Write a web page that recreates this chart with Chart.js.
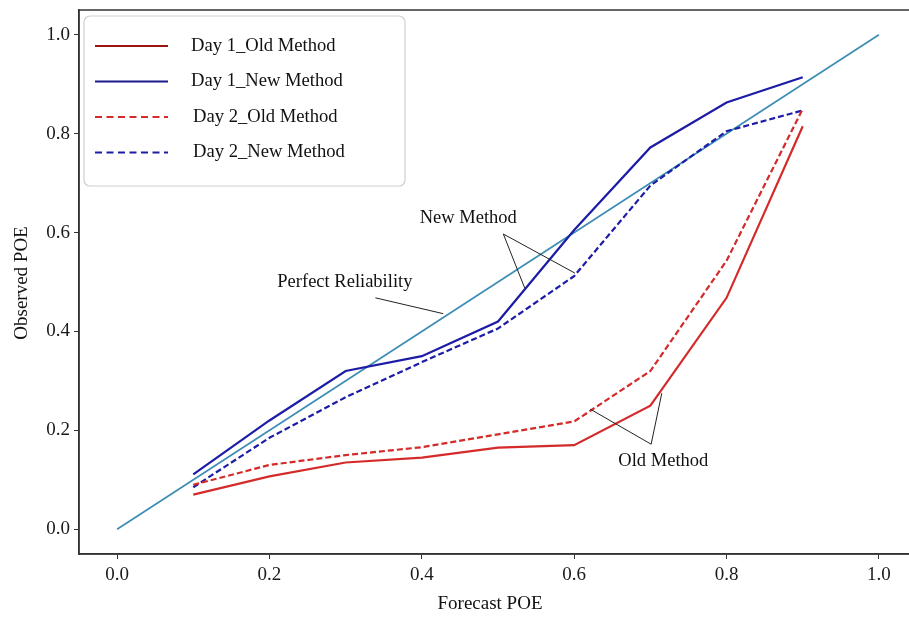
<!DOCTYPE html>
<html>
<head>
<meta charset="utf-8">
<script src="https://cdn.jsdelivr.net/npm/chart.js@4.4.0/dist/chart.umd.min.js"></script>
<style>
  html, body { margin: 0; padding: 0; background: #fff; overflow: hidden; }
  #wrap { width: 930px; height: 617px; }
</style>
</head>
<body>
<div id="wrap"><canvas id="myChart" width="930" height="617"></canvas></div>
<script>
"use strict";

// forecast POE points
let forecast = [0.1, 0.2, 0.3, 0.4, 0.5, 0.6, 0.7, 0.8, 0.9];
let day1Old = [0.07, 0.107, 0.135, 0.145, 0.165, 0.17, 0.25, 0.468, 0.815];
let day1New = [0.111, 0.22, 0.32, 0.35, 0.42, 0.605, 0.772, 0.863, 0.914];
let day2Old = [0.09, 0.13, 0.15, 0.166, 0.192, 0.218, 0.32, 0.543, 0.85];
let day2New = [0.085, 0.185, 0.267, 0.338, 0.406, 0.512, 0.695, 0.805, 0.847];
let perfectX = [0, 1];
let perfectY = [0, 1];
let tickValues = [0, 0.2, 0.4, 0.6, 0.8, 1.0];

// annotations: text position, arrow tail, arrow heads (data units)
let notes = [
    { text: "New Method", at: [0.461, 0.63], tail: [0.507, 0.597], heads: [[0.535, 0.488], [0.601, 0.518]] },
    { text: "Perfect Reliability", at: [0.299, 0.5], tail: [0.339, 0.468], heads: [[0.428, 0.436]] },
    { text: "Old Method", at: [0.717, 0.137], tail: [0.701, 0.172], heads: [[0.621, 0.243], [0.715, 0.275]] }
];

let RED = "#d42a2a";
let BLUE = "#1c1ca6";
let TEAL = "#3d8db5";
let FONT = "'Liberation Serif', 'Times New Roman', serif";

function pts(xs, ys) { return xs.map(function (x, i) { return { x: x, y: ys[i] }; }); }

let series = [
    { label: "Day 1_Old Method", data: day1Old, color: RED, dash: [] },
    { label: "Day 1_New Method", data: day1New, color: BLUE, dash: [] },
    { label: "Day 2_Old Method", data: day2Old, color: RED, dash: [6, 3] },
    { label: "Day 2_New Method", data: day2New, color: BLUE, dash: [6, 3] }
];

let datasets = series.map(function (s) {
    return {
        label: s.label,
        data: pts(forecast, s.data),
        borderColor: s.color,
        borderWidth: 2.2,
        borderDash: s.dash,
        pointRadius: 0,
        fill: false,
        tension: 0
    };
});
datasets.push({
    label: "Perfect Reliability",
    data: pts(perfectX, perfectY),
    borderColor: TEAL,
    borderWidth: 1.7,
    pointRadius: 0,
    fill: false
});

let extras = {
    id: "extras",
    afterDraw: function (chart) {
        let ctx = chart.ctx;
        let xs = chart.scales.x, ys = chart.scales.y;
        let a = chart.chartArea;
        ctx.save();

        // frame
        ctx.strokeStyle = "#333";
        ctx.lineWidth = 1.5;
        ctx.strokeRect(a.left, a.top, a.right - a.left, a.bottom - a.top);

        // annotations
        ctx.fillStyle = "#111";
        ctx.strokeStyle = "#222";
        ctx.lineWidth = 1;
        ctx.font = "18.5px " + FONT;
        ctx.textAlign = "center";
        ctx.textBaseline = "middle";
        notes.forEach(function (n) {
            ctx.fillText(n.text, xs.getPixelForValue(n.at[0]), ys.getPixelForValue(n.at[1]));
            n.heads.forEach(function (h) {
                ctx.beginPath();
                ctx.moveTo(xs.getPixelForValue(n.tail[0]), ys.getPixelForValue(n.tail[1]));
                ctx.lineTo(xs.getPixelForValue(h[0]), ys.getPixelForValue(h[1]));
                ctx.stroke();
            });
        });

        // legend
        let lx = a.left + 5, ly = a.top + 6, lw = 321, lh = 170;
        ctx.beginPath();
        ctx.roundRect(lx, ly, lw, lh, 6);
        ctx.fillStyle = "rgba(255,255,255,0.85)";
        ctx.fill();
        ctx.strokeStyle = "#cfcfcf";
        ctx.lineWidth = 1.2;
        ctx.stroke();
        ctx.textAlign = "left";
        ctx.font = "18.6px " + FONT;
        series.forEach(function (s, i) {
            let y = ly + 30 + i * 35.5;
            ctx.beginPath();
            ctx.strokeStyle = i === 0 ? "#9a1414" : (i === 1 ? "#1a1a8c" : s.color);
            ctx.lineWidth = 2;
            ctx.setLineDash(s.dash.length ? [7, 4.5] : []);
            ctx.moveTo(lx + 11, y);
            ctx.lineTo(lx + 84, y);
            ctx.stroke();
            ctx.setLineDash([]);
            ctx.fillStyle = "#111";
            ctx.fillText(s.label, lx + 107 + (i >= 2 ? 2 : 0), y);
        });

        // axis titles
        ctx.fillStyle = "#111";
        ctx.font = "19px " + FONT;
        ctx.textAlign = "center";
        ctx.fillText("Forecast POE", 490, 604);
        ctx.translate(22, 283);
        ctx.rotate(-Math.PI / 2);
        ctx.fillText("Observed POE", 0, 0);
        ctx.restore();
    }
};

function fixTicks(scale) { scale.ticks = tickValues.map(function (v) { return { value: v }; }); }

let _Chart = document.getElementById("myChart");
let newChart = new Chart(_Chart, {
    type: "line",
    data: { datasets: datasets },
    options: {
        responsive: false,
        animation: false,
        layout: { padding: { left: 0, top: 10, right: 13, bottom: 0 } },
        plugins: { legend: { display: false }, tooltip: { enabled: false } },
        scales: {
            x: {
                type: "linear",
                min: -0.05,
                max: 1.05,
                afterBuildTicks: fixTicks,
                afterFit: function (s) { s.height = 63; s.paddingLeft = 0; s.paddingRight = 0; },
                grid: { drawOnChartArea: false, tickLength: 5, tickColor: "#333" },
                border: { color: "#333", width: 1.5 },
                ticks: {
                    font: { family: FONT, size: 19 },
                    color: "#1a1a1a",
                    padding: 5,
                    maxRotation: 0,
                    callback: function (v) { return v.toFixed(1); }
                }
            },
            y: {
                type: "linear",
                min: -0.05,
                max: 1.05,
                afterBuildTicks: fixTicks,
                afterFit: function (s) { s.width = 79; s.paddingTop = 0; s.paddingBottom = 0; },
                grid: { drawOnChartArea: false, tickLength: 5, tickColor: "#333" },
                border: { color: "#333", width: 1.5 },
                ticks: {
                    font: { family: FONT, size: 19 },
                    color: "#1a1a1a",
                    padding: 4,
                    callback: function (v) { return v.toFixed(1); }
                }
            }
        }
    },
    plugins: [extras]
});
</script>
</body>
</html>
